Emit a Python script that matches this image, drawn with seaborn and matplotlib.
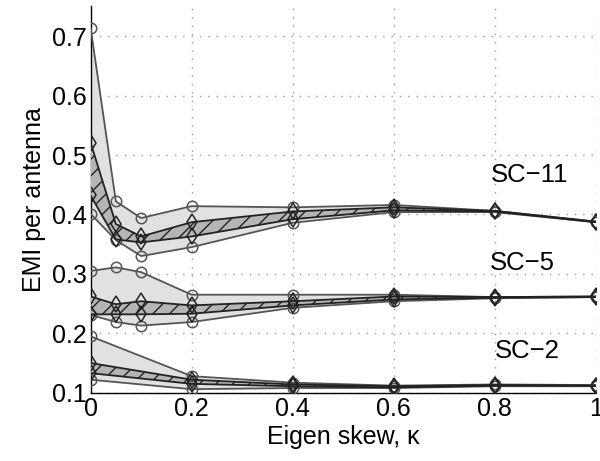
import matplotlib
matplotlib.use("Agg")
import matplotlib.pyplot as plt
import numpy as np
import pandas as pd
import seaborn as sns

# Eigen-skew sample points
kappa = [0.0, 0.05, 0.1, 0.2, 0.4, 0.6, 0.8, 1.0]
kappa_sc2 = [0.0, 0.2, 0.4, 0.6, 0.8, 1.0]

# SC-11: outer envelope (circles) and inner envelope (diamonds)
sc11_outer_hi = [0.714, 0.422, 0.394, 0.414, 0.412, 0.416, 0.406, 0.388]
sc11_inner_hi = [0.521, 0.384, 0.363, 0.387, 0.405, 0.412, 0.406, 0.388]
sc11_inner_lo = [0.432, 0.358, 0.353, 0.363, 0.392, 0.407, 0.405, 0.387]
sc11_outer_lo = [0.401, 0.357, 0.330, 0.345, 0.386, 0.404, 0.404, 0.387]

# SC-5
sc5_outer_hi = [0.305, 0.311, 0.303, 0.265, 0.265, 0.265, 0.261, 0.262]
sc5_inner_hi = [0.262, 0.249, 0.254, 0.247, 0.254, 0.262, 0.261, 0.262]
sc5_inner_lo = [0.232, 0.232, 0.232, 0.233, 0.247, 0.257, 0.260, 0.261]
sc5_outer_lo = [0.231, 0.219, 0.213, 0.219, 0.243, 0.254, 0.259, 0.261]

# SC-2
sc2_outer_hi = [0.195, 0.128, 0.117, 0.112, 0.114, 0.113]
sc2_inner_hi = [0.150, 0.122, 0.114, 0.111, 0.113, 0.112]
sc2_inner_lo = [0.133, 0.115, 0.111, 0.109, 0.112, 0.112]
sc2_outer_lo = [0.122, 0.106, 0.108, 0.108, 0.111, 0.111]

group_names = ["SC\u221211", "SC\u22125", "SC\u22122"]
x_ticks = [0, 0.2, 0.4, 0.6, 0.8, 1.0]
x_ticklabels = ["0", "0.2", "0.4", "0.6", "0.8", "1"]
y_ticks = [0.1, 0.2, 0.3, 0.4, 0.5, 0.6, 0.7]
y_ticklabels = ["0.1", "0.2", "0.3", "0.4", "0.5", "0.6", "0.7"]

groups = [
    (group_names[0], kappa, sc11_outer_hi, sc11_inner_hi, sc11_inner_lo, sc11_outer_lo),
    (group_names[1], kappa, sc5_outer_hi, sc5_inner_hi, sc5_inner_lo, sc5_outer_lo),
    (group_names[2], kappa_sc2, sc2_outer_hi, sc2_inner_hi, sc2_inner_lo, sc2_outer_lo),
]

sns.set_theme(style="white")
plt.rcParams["font.family"] = ["Liberation Sans", "DejaVu Sans"]
plt.rcParams["text.color"] = "black"
plt.rcParams["axes.labelcolor"] = "black"
plt.rcParams["xtick.color"] = "black"
plt.rcParams["ytick.color"] = "black"
plt.rcParams["hatch.linewidth"] = 1.0
plt.rcParams["hatch.color"] = "#2a2a2a"

fig = plt.figure(figsize=(6.0, 4.61), dpi=100)
ax = fig.add_axes([0.151, 0.148, 0.842, 0.838])

outer_fill = "#e1e1e1"
inner_fill = "#b5b5b5"
outer_edge = "#555555"
inner_edge = "#222222"

rows = []
for name, xs, ohi, ihi, ilo, olo in groups:
    for k, a, b, c, d in zip(xs, ohi, ihi, ilo, olo):
        rows.append({"group": name, "kappa": k, "outer_hi": a, "inner_hi": b,
                     "inner_lo": c, "outer_lo": d})
df = pd.DataFrame(rows)

for name in group_names:
    g = df[df["group"] == name]
    ax.fill_between(g["kappa"], g["outer_lo"], g["outer_hi"],
                    facecolor=outer_fill, edgecolor="none", zorder=2)
    ax.fill_between(g["kappa"], g["inner_lo"], g["inner_hi"],
                    facecolor=inner_fill, edgecolor=inner_edge, hatch="//",
                    linewidth=0, zorder=3)
    for col in ["outer_hi", "outer_lo"]:
        sns.lineplot(data=g, x="kappa", y=col, ax=ax, color=outer_edge,
                     linewidth=1.3, marker="o", markersize=7.5,
                     markerfacecolor="none", markeredgecolor=outer_edge,
                     markeredgewidth=1.1, zorder=4)
    for col in ["inner_hi", "inner_lo"]:
        sns.lineplot(data=g, x="kappa", y=col, ax=ax, color=inner_edge,
                     linewidth=1.3, marker="d", markersize=8.5,
                     markerfacecolor="none", markeredgecolor=inner_edge,
                     markeredgewidth=1.1, zorder=5)

label_pos = {group_names[0]: (0.792, 0.454),
             group_names[1]: (0.790, 0.306),
             group_names[2]: (0.800, 0.158)}
for name, (tx, ty) in label_pos.items():
    ax.text(tx, ty, name, fontsize=18.5, color="black", ha="left",
            va="baseline", zorder=6)

ax.set_xlim(0, 1.0)
ax.set_ylim(0.1, 0.75)
ax.set_xticks(x_ticks)
ax.set_xticklabels(x_ticklabels)
ax.set_yticks(y_ticks)
ax.set_yticklabels(y_ticklabels)
ax.tick_params(axis="both", labelsize=18, direction="in", length=3,
               width=0.8, color="black", labelcolor="black", pad=3)

ax.grid(True, color="#9a9a9a", linestyle=(0, (1, 5)), linewidth=1.0)
ax.set_axisbelow(True)
for side in ["top", "right"]:
    ax.spines[side].set_visible(False)
for side in ["left", "bottom"]:
    ax.spines[side].set_color("black")
    ax.spines[side].set_linewidth(1.0)

ax.set_xlabel("Eigen skew, \u03ba", fontsize=18, labelpad=3, color="black")
ax.set_ylabel("EMI per antenna", fontsize=18, labelpad=4, color="black")

fig.savefig("out.png", dpi=100)
